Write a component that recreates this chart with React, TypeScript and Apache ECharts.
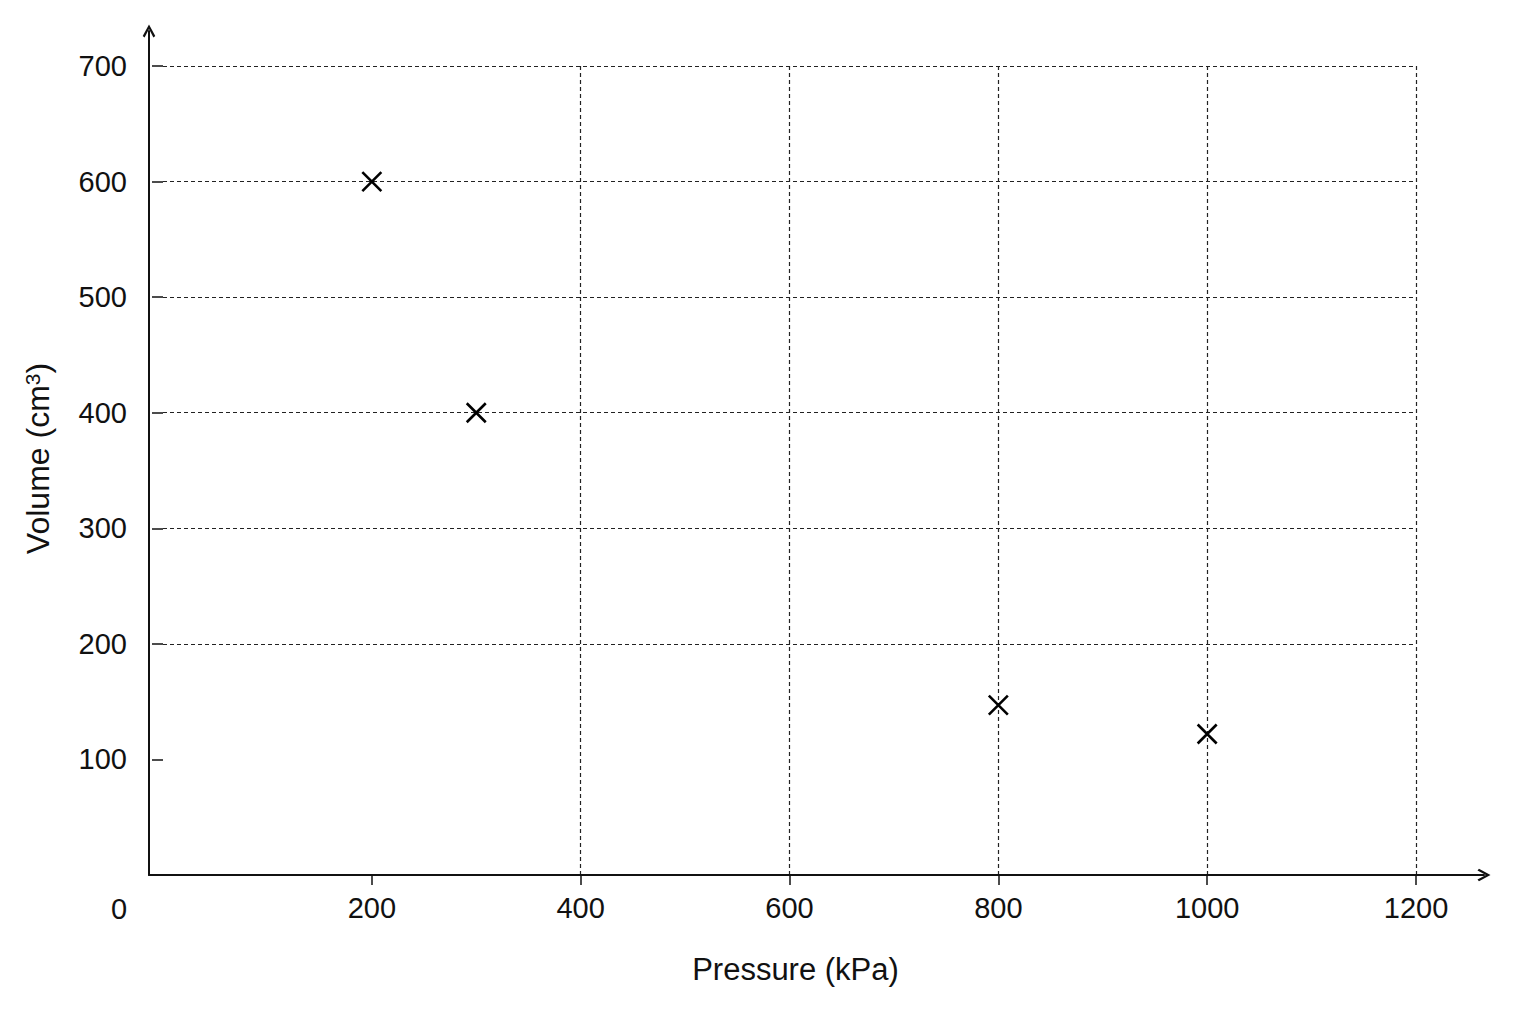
import { useEffect, useRef } from 'react';
import * as echarts from 'echarts';

// Measured points (pressure in kPa, volume in cm3)
const pressure = [200, 300, 800, 1000];
const volume = [600, 400, 147, 122];

const xTicks = [200, 400, 600, 800, 1000, 1200];
const yTicks = [100, 200, 300, 400, 500, 600, 700];
const xTitle = 'Pressure (kPa)';
const yTitle = 'Volume (cm{sup|3})';
const originLabel = '0';

const ink = '#111';
const numFont = '"Liberation Sans", Arial, sans-serif';
const titleFont = '"Liberation Sans", Arial, sans-serif';

// open chevron for the axis ends, x mark for the points
const arrowHead = 'path://M6,0L12,11L10.2,12.4L6,4.4L1.8,12.4L0,11Z';
const crossMark = 'path://M0,0L10,10M10,0L0,10';

const App = () => {
  const containerRef = useRef<HTMLDivElement>(null);

  useEffect(() => {
    if (!containerRef.current) return;
    const chart = echarts.init(containerRef.current, null, { renderer: 'svg' });

    const gridDash = { type: [4, 3] as number[], color: '#222', width: 1.2 };
    const tickStyle = { color: ink, width: 1.5 };
    const plain = (v: number) => String(v);

    const option: echarts.EChartsOption = {
      backgroundColor: '#fff',
      animation: false,
      grid: [
        // only carries the two arrowed axis lines
        { left: 149, right: 52, top: 31, bottom: 149 },
        // data area
        { left: 163, right: 120, top: 66, bottom: 149 },
      ],
      xAxis: [
        {
          gridIndex: 0,
          type: 'value',
          min: 0,
          max: 1,
          axisLine: {
            show: true,
            symbol: ['none', arrowHead],
            symbolSize: [13, 13],
            lineStyle: { color: ink, width: 2 },
          },
          axisTick: { show: false },
          axisLabel: { show: false },
          splitLine: { show: false },
        },
        {
          gridIndex: 1,
          type: 'value',
          min: 0,
          max: 1200,
          interval: 200,
          axisLine: { show: false },
          axisTick: { show: true, length: 10, customValues: xTicks, lineStyle: tickStyle },
          axisLabel: {
            customValues: xTicks,
            formatter: plain,
            margin: 18,
            fontSize: 29,
            fontFamily: numFont,
            color: ink,
          },
          splitLine: { show: true, showMinLine: false, lineStyle: gridDash },
          name: xTitle,
          nameLocation: 'middle',
          nameGap: 79,
          nameTextStyle: { fontSize: 31, fontFamily: titleFont, color: ink, padding: [0, 0, 0, 12] },
        },
      ],
      yAxis: [
        {
          gridIndex: 0,
          type: 'value',
          min: 0,
          max: 1,
          axisLine: {
            show: true,
            symbol: ['none', arrowHead],
            symbolSize: [13, 13],
            lineStyle: { color: ink, width: 2 },
          },
          axisTick: { show: false },
          axisLabel: { show: false },
          splitLine: { show: false },
        },
        {
          gridIndex: 1,
          type: 'value',
          min: 0,
          max: 700,
          interval: 100,
          offset: 14,
          axisLine: { show: false },
          axisTick: { show: true, length: 11, customValues: yTicks, lineStyle: tickStyle },
          axisLabel: {
            customValues: yTicks,
            formatter: plain,
            margin: 22,
            fontSize: 29,
            fontFamily: numFont,
            color: ink,
          },
          splitLine: { show: true, showMinLine: false, lineStyle: gridDash },
          name: yTitle,
          nameLocation: 'middle',
          nameGap: 95,
          nameTextStyle: {
            fontSize: 32,
            fontFamily: titleFont,
            color: ink,
            padding: [0, 0, 0, 24],
            rich: {
              sup: { fontSize: 21, fontFamily: titleFont, color: ink, verticalAlign: 'top' },
            },
          },
        },
      ],
      series: [
        {
          type: 'scatter',
          xAxisIndex: 1,
          yAxisIndex: 1,
          data: pressure.map((p, i) => [p, volume[i]]),
          symbol: crossMark,
          symbolSize: 19,
          itemStyle: { color: 'none', borderColor: '#000', borderWidth: 2.6, opacity: 1 },
          z: 5,
        },
      ],
      graphic: [
        {
          type: 'text',
          left: 111,
          top: 894,
          style: { text: originLabel, font: `29px ${numFont}`, fill: ink },
        },
      ],
    };

    chart.setOption(option, true);

    return () => {
      chart.dispose();
    };
  }, []);

  return (
    <div
      ref={containerRef}
      style={{ position: 'absolute', left: 0, top: 0, width: '1536px', height: '1024px' }}
    />
  );
};

export default App;
